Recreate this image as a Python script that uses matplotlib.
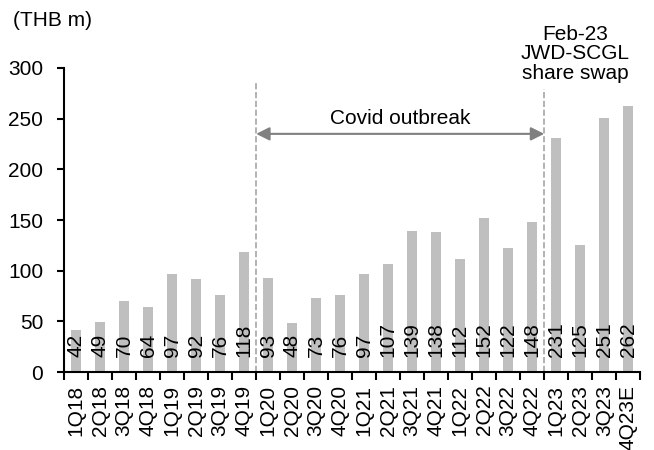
import matplotlib
matplotlib.use("Agg")
import matplotlib.pyplot as plt

plt.rcParams['font.family'] = ['Liberation Sans', 'DejaVu Sans']

quarters = ["1Q18", "2Q18", "3Q18", "4Q18", "1Q19", "2Q19", "3Q19", "4Q19",
            "1Q20", "2Q20", "3Q20", "4Q20", "1Q21", "2Q21", "3Q21", "4Q21",
            "1Q22", "2Q22", "3Q22", "4Q22", "1Q23", "2Q23", "3Q23", "4Q23E"]
values = [42, 49, 70, 64, 97, 92, 76, 118, 93, 48, 73, 76, 97, 107, 139, 138,
          112, 152, 122, 148, 231, 125, 251, 262]

fs = 15
fig = plt.figure(figsize=(6.54, 4.5), dpi=100)
ax = fig.add_axes([0.098, 0.173, 0.881, 0.676])

x = range(len(quarters))
ax.bar(x, values, width=0.4, color="#bfbfbf")
for i, v in zip(x, values):
    ax.text(i, 15, str(v), rotation=90, ha="center", va="bottom", fontsize=fs)

ax.set_xlim(-0.5, len(quarters) - 0.5)
ax.set_ylim(0, 300)
ax.set_yticks(range(0, 301, 50))
ax.set_xticks(x)
ax.set_xticklabels(quarters, rotation=90, fontsize=fs)
ax.tick_params(axis="x", length=0, pad=9)
ax.set_xticks([i + 0.5 for i in range(-1, len(quarters))], minor=True)
ax.tick_params(axis="x", which="minor", length=6, width=1.5, direction="out")
ax.tick_params(axis="y", labelsize=fs, length=5, width=1.5, direction="out", pad=10)
for s in ["top", "right"]:
    ax.spines[s].set_visible(False)
for s in ["left", "bottom"]:
    ax.spines[s].set_linewidth(1.5)

# event markers
ax.plot([7.5, 7.5], [0, 285], ls="--", color="#a6a6a6", lw=1.2, clip_on=False)
ax.plot([19.5, 19.5], [0, 279], ls="--", color="#a6a6a6", lw=1.2, clip_on=False)
ax.annotate("", xy=(7.5, 235), xytext=(19.5, 235),
            arrowprops=dict(arrowstyle="<|-|>", color="#808080", lw=1.5,
                            mutation_scale=20, shrinkA=0, shrinkB=0))
ax.text(13.5, 241, "Covid outbreak", ha="center", va="bottom", fontsize=fs)
ax.text(20.8, 285, "Feb-23\nJWD-SCGL\nshare swap", ha="center", va="bottom",
        fontsize=fs, linespacing=1.05, clip_on=False)

fig.text(0.02, 0.975, "(THB m)", fontsize=fs, ha="left", va="top")

fig.savefig("out.png", dpi=100)
